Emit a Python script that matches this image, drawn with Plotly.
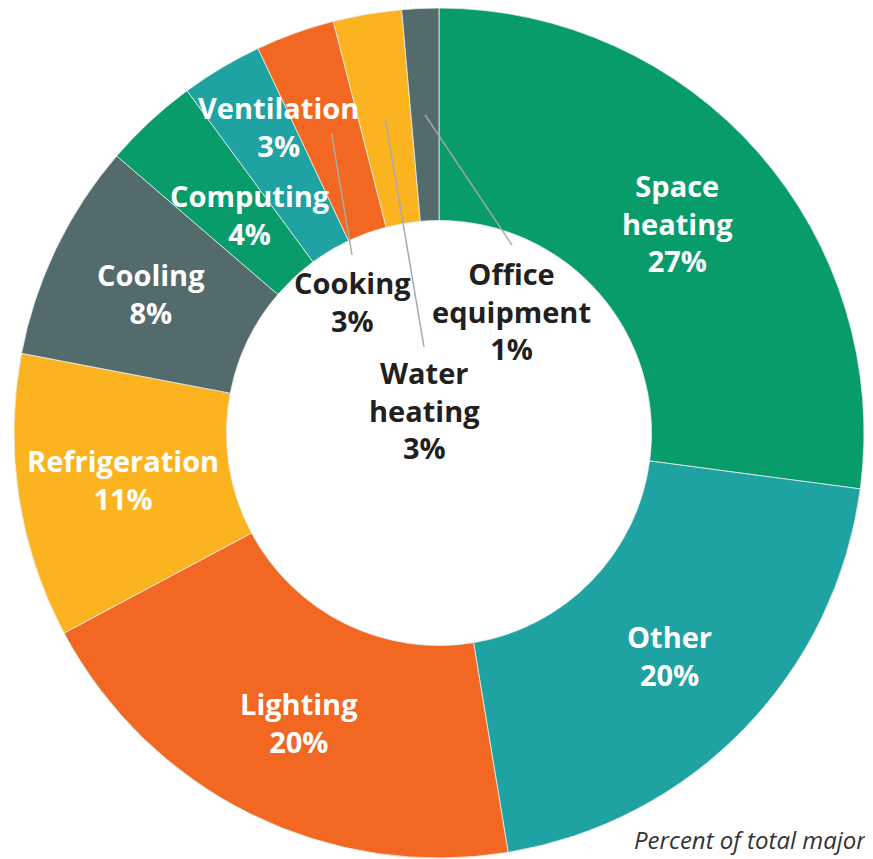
import math
import plotly.graph_objects as go

categories = ["Space heating", "Other", "Lighting", "Refrigeration", "Cooling",
              "Computing", "Ventilation", "Cooking", "Water heating", "Office equipment"]
values = [27.1, 20.3, 19.8, 10.8, 8.3, 3.6, 3.1, 3.0, 2.6, 1.4]
pct_labels = ["27%", "20%", "20%", "11%", "8%", "4%", "3%", "3%", "3%", "1%"]
label_lines = ["Space<br>heating", "Other", "Lighting", "Refrigeration", "Cooling",
               "Computing", "Ventilation", "Cooking", "Water<br>heating", "Office<br>equipment"]
colors = ["#079c6a", "#1ea2a2", "#f26722", "#fbb41f", "#546b6c",
          "#079c6a", "#1ea2a2", "#f26722", "#fbb41f", "#546b6c"]

W, H = 873, 859
OFF = 8  # page body margin in the browser
CX, CY, R = 439 - OFF, 432 - OFF, 426

fig = go.Figure(go.Pie(
    labels=categories, values=values, sort=False, direction="clockwise", rotation=0,
    hole=0.5, marker=dict(colors=colors, line=dict(color="#e8ecec", width=0.8)),
    textinfo="none", showlegend=False,
    domain=dict(x=[(CX - R) / W, (CX + R) / W],
                y=[max(0, (H - CY - R) / H), min(1, (H - CY + R) / H)]),
))

# inside labels: (radius fraction, angle shift in degrees from slice mid-angle)
# hole labels: pixel offset from the centre, with a leader line
placement = {
    "Space heating": ("in", (0.745, 0)), "Other": ("in", (0.755, 0)), "Lighting": ("in", (0.757, -0.5)),
    "Refrigeration": ("in", (0.75, 0)), "Cooling": ("in", (0.75, 0)), "Computing": ("in", (0.676, 1.75)),
    "Ventilation": ("in", (0.81, 3.0)),
    "Cooking": ("hole", (-87, -131)), "Water heating": ("hole", (-15, -22)),
    "Office equipment": ("hole", (73, -121)),
}
lead_top = {"Cooking": 255, "Water heating": 347, "Office equipment": 245}

def to_paper(px, py):
    return px / W, 1 - py / H

total = sum(values)
cum = 0
annotations, shapes = [], []
for cat, v, p, lab in zip(categories, values, pct_labels, label_lines):
    mid = (cum + v / 2) / total * 2 * math.pi
    cum += v
    kind, par = placement[cat]
    text = f"{lab}<br>{p}"
    if kind == "in":
        rf, dang = par
        a = mid + math.radians(dang)
        px = CX + rf * R * math.sin(a)
        py = CY - rf * R * math.cos(a)
        col = "white"
    else:
        px, py = CX + par[0], CY + par[1]
        col = "#231f20"
        sx = CX + 0.745 * R * math.sin(mid)
        sy = CY - 0.745 * R * math.cos(mid)
        x0, y0 = to_paper(sx, sy)
        x1, y1 = to_paper(px, lead_top[cat] - OFF)
        shapes.append(dict(type="line", xref="paper", yref="paper", x0=x0, y0=y0, x1=x1, y1=y1,
                           line=dict(color="#aaaaaa", width=1.5)))
    ax, ay = to_paper(px, py)
    annotations.append(dict(x=ax, y=ay, xref="paper", yref="paper", text=text, showarrow=False,
                            xanchor="center", yanchor="middle", align="center",
                            font=dict(family="Open Sans", size=29, color=col, weight="bold")))

nx, ny = to_paper(629 - OFF, 821 - OFF)
annotations.append(dict(x=nx, y=ny, xref="paper", yref="paper", xanchor="left", yanchor="top",
                        align="left", showarrow=False,
                        text="<i>Percent of total major<br>fuel consumption (Btu)</i>",
                        font=dict(family="Open Sans", size=24, color="#333333")))

fig.update_layout(width=W, height=H, margin=dict(l=0, r=0, t=0, b=0),
                  paper_bgcolor="white", plot_bgcolor="white",
                  annotations=annotations, shapes=shapes)
fig.write_html("out.html")
